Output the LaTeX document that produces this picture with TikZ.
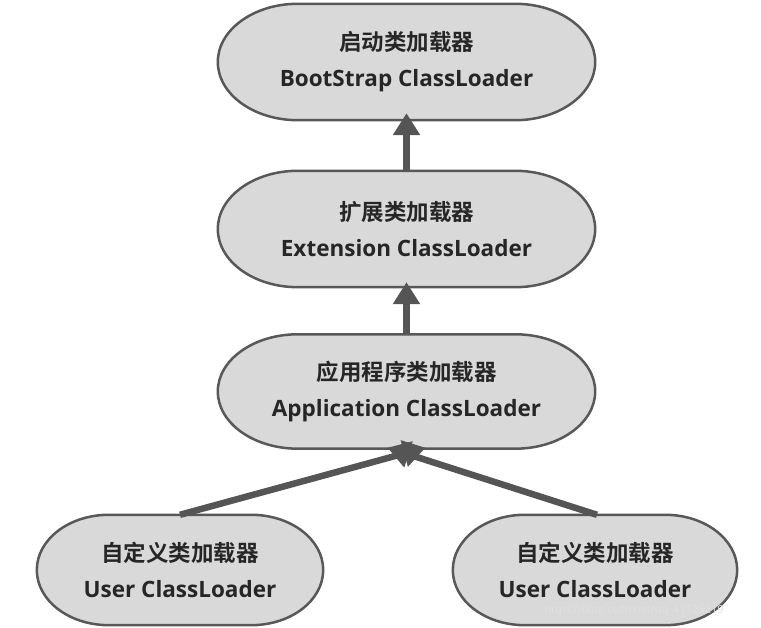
\documentclass[tikz,border=0pt]{standalone}
\usepackage{fontspec}
\setmainfont{Open Sans}
\newfontfamily\zh{Noto Sans CJK SC}[BoldFont={Noto Sans CJK SC Bold}]
\usetikzlibrary{arrows.meta,calc,backgrounds}
\definecolor{capfill}{RGB}{217,217,217}
\definecolor{capline}{RGB}{88,88,88}
\definecolor{arrcol}{RGB}{85,85,85}
\definecolor{txtcol}{RGB}{38,38,38}
\tikzset{
  lbl/.style={draw=none, inner sep=0pt, align=center, text=txtcol,
    font=\fontsize{22.5}{36}\selectfont\bfseries},
  capsty/.style={fill=capfill, draw=capline, line width=2.5pt},
  arr/.style={draw=arrcol, line width=6.5pt, -{Triangle[width=26pt,length=22pt]}},
  wm/.style={text=white!88!black, font=\fontsize{11}{13}\selectfont}
}
\newcommand\capsule[2]{%
  \begin{scope}[on background layer]
  \path[capsty] let \p1=(#1.north west), \p2=(#1.south east), \n1={(\y1-\y2)/2} in
    (\x1+#2pt,\y1) -- (\x2-#2pt,\y1)
    arc[start angle=90,end angle=-90,x radius=#2pt,y radius=\n1]
    -- (\x1+#2pt,\y2)
    arc[start angle=270,end angle=90,x radius=#2pt,y radius=\n1] -- cycle;
  \end{scope}}
\begin{document}
\begin{tikzpicture}[x=1pt,y=1pt]
\useasboundingbox (0,0) rectangle (761,628);
\node[lbl, minimum width=377pt, minimum height=116pt] (boot) at (406.5,566) {{\zh 启动类加载器}\\BootStrap ClassLoader};
\node[lbl, minimum width=377pt, minimum height=116pt] (ext) at (406.5,399) {{\zh 扩展类加载器}\\Extension ClassLoader};
\node[lbl, minimum width=377pt, minimum height=114pt] (app) at (406.5,236.5) {{\zh 应用程序类加载器}\\Application ClassLoader};
\node[lbl, minimum width=286pt, minimum height=110pt] (userL) at (180,58) {{\zh 自定义类加载器}\\User ClassLoader};
\node[lbl, minimum width=284pt, minimum height=110pt] (userR) at (595,58) {{\zh 自定义类加载器}\\User ClassLoader};
\capsule{boot}{80}
\capsule{ext}{80}
\capsule{app}{80}
\capsule{userL}{72}
\capsule{userR}{72}
\draw[arr] (ext.north) -- ($(boot.south)+(0,7)$);
\draw[arr] (app.north) -- ($(ext.south)+(0,5)$);
\draw[arr] (userL.north) -- ($(app.south)+(19,1)$);
\draw[arr] ($(userR.north)+(2,0)$) -- ($(app.south)+(-19,1)$);
\node[wm, anchor=center] (wmark) at (634,17) {https://blog.csdn.net/qq\_41125219};
\end{tikzpicture}
\end{document}
